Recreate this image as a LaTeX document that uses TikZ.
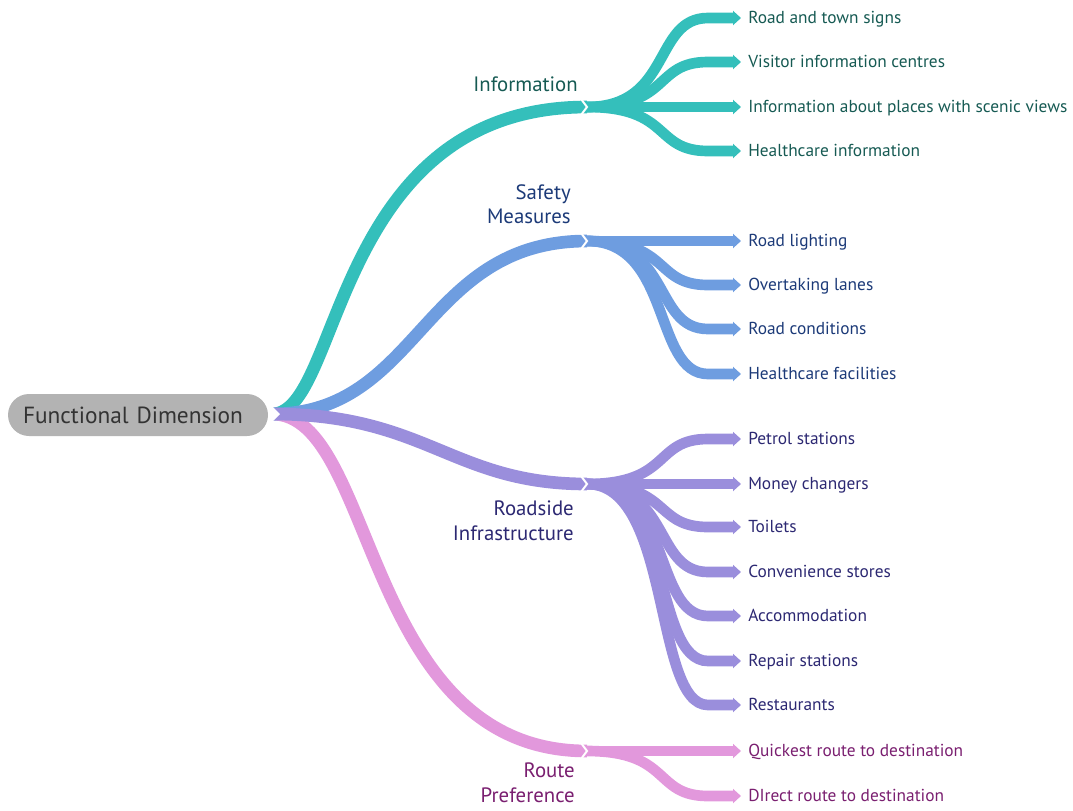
\documentclass[tikz,border=0pt]{standalone}
\usepackage{fontspec}
\setmainfont{PT Sans}
\usetikzlibrary{arrows.meta,calc}

\definecolor{tealb}{HTML}{34BFBB}
\definecolor{bluea}{HTML}{6E9DE0}
\definecolor{purpb}{HTML}{9A8EDC}
\definecolor{pinkb}{HTML}{E298DC}
\definecolor{tealt}{HTML}{165A53}
\definecolor{bluet}{HTML}{1C3A78}
\definecolor{purpt}{HTML}{2C2872}
\definecolor{pinkt}{HTML}{7A1F70}
\definecolor{rootg}{HTML}{B3B3B3}

\begin{document}
\begin{tikzpicture}[x=0.75pt,y=-0.75pt,
  leaf/.style={anchor=west,inner sep=0pt,text height=9pt,text depth=1.5pt,font=\fontsize{13}{15}\selectfont},
  lab/.style={anchor=east,align=right,inner sep=0pt,font=\fontsize{15.6}{18.4}\selectfont},
  main/.style={line width=9.5pt},
  sub/.style={line width=8pt,-{Triangle[length=6pt,width=10.5pt]}},
  notch/.style={draw=white,line width=1.5pt}]
\useasboundingbox (0,0) rectangle (1073,810);

\node[fill=rootg,rounded corners=15.75pt,minimum height=31.5pt,inner xsep=11.25pt,inner ysep=0pt,
  text width=172.5pt,align=left,font=\fontsize{17.5}{20}\selectfont,text=black!80] (0) at (138,415) {Functional Dimension};
\coordinate (r) at (272,414);

\coordinate (1) at (587,107);
\coordinate (2) at (587,241);
\coordinate (3) at (587,484);
\coordinate (4) at (587,751);

\node[lab,text=tealt] (a) at (578,84) {Information};
\node[lab,text=bluet] (b) at (571,204) {Safety\\Measures};
\node[lab,text=purpt] (c) at (574,521) {Roadside\\Infrastructure};
\node[lab,text=pinkt] (d) at (575,783) {Route\\Preference};

\node[leaf,text=tealt] (11) at (748,18) {Road and town signs};
\node[leaf,text=tealt] (12) at (748,62) {Visitor information centres};
\node[leaf,text=tealt] (13) at (748,107) {Information about places with scenic views};
\node[leaf,text=tealt] (14) at (748,151) {Healthcare information};

\node[leaf,text=bluet] (21) at (748,241) {Road lighting};
\node[leaf,text=bluet] (22) at (748,285) {Overtaking lanes};
\node[leaf,text=bluet] (23) at (748,329) {Road conditions};
\node[leaf,text=bluet] (24) at (748,374) {Healthcare facilities};

\node[leaf,text=purpt] (31) at (748,439) {Petrol stations};
\node[leaf,text=purpt] (32) at (748,484) {Money changers};
\node[leaf,text=purpt] (33) at (748,527) {Toilets};
\node[leaf,text=purpt] (34) at (748,572) {Convenience stores};
\node[leaf,text=purpt] (35) at (748,616) {Accommodation};
\node[leaf,text=purpt] (36) at (748,661) {Repair stations};
\node[leaf,text=purpt] (37) at (748,705) {Restaurants};

\node[leaf,text=pinkt] (41) at (748,751) {Quickest route to destination};
\node[leaf,text=pinkt] (42) at (748,796) {DIrect route to destination};

\path[draw=tealb,main] (r) .. controls +(70,0) and +(-256,0) .. (1);
\path[draw=pinkb,main] (r) .. controls +(105,0) and +(-225,0) .. (4);
\path[draw=bluea,main] (r) .. controls +(148,0) and +(-165,0) .. (2);
\path[draw=purpb,main] (r) .. controls +(155,0) and +(-135,0) .. (3);

\path[draw=tealb,sub] (1) .. controls +(85,0) and +(-55,0) .. ($(11.west)+(-40,0)$) -- ($(11.west)+(-7,0)$);
\path[draw=tealb,sub] (1) .. controls +(85,0) and +(-55,0) .. ($(12.west)+(-40,0)$) -- ($(12.west)+(-7,0)$);
\path[draw=tealb,sub] (1) -- ($(13.west)+(-7,0)$);
\path[draw=tealb,sub] (1) .. controls +(85,0) and +(-55,0) .. ($(14.west)+(-40,0)$) -- ($(14.west)+(-7,0)$);

\path[draw=bluea,sub] (2) -- ($(21.west)+(-7,0)$);
\path[draw=bluea,sub] (2) .. controls +(85,0) and +(-55,0) .. ($(22.west)+(-40,0)$) -- ($(22.west)+(-7,0)$);
\path[draw=bluea,sub] (2) .. controls +(85,0) and +(-55,0) .. ($(23.west)+(-40,0)$) -- ($(23.west)+(-7,0)$);
\path[draw=bluea,sub] (2) .. controls +(85,0) and +(-55,0) .. ($(24.west)+(-40,0)$) -- ($(24.west)+(-7,0)$);

\path[draw=purpb,sub] (3) .. controls +(85,0) and +(-55,0) .. ($(31.west)+(-40,0)$) -- ($(31.west)+(-7,0)$);
\path[draw=purpb,sub] (3) -- ($(32.west)+(-7,0)$);
\path[draw=purpb,sub] (3) .. controls +(85,0) and +(-55,0) .. ($(33.west)+(-40,0)$) -- ($(33.west)+(-7,0)$);
\path[draw=purpb,sub] (3) .. controls +(85,0) and +(-55,0) .. ($(34.west)+(-40,0)$) -- ($(34.west)+(-7,0)$);
\path[draw=purpb,sub] (3) .. controls +(85,0) and +(-55,0) .. ($(35.west)+(-40,0)$) -- ($(35.west)+(-7,0)$);
\path[draw=purpb,sub] (3) .. controls +(85,0) and +(-55,0) .. ($(36.west)+(-40,0)$) -- ($(36.west)+(-7,0)$);
\path[draw=purpb,sub] (3) .. controls +(85,0) and +(-55,0) .. ($(37.west)+(-40,0)$) -- ($(37.west)+(-7,0)$);

\path[draw=pinkb,sub] (4) -- ($(41.west)+(-7,0)$);
\path[draw=pinkb,sub] (4) .. controls +(85,0) and +(-55,0) .. ($(42.west)+(-40,0)$) -- ($(42.west)+(-7,0)$);

\path[fill=white] (r) ++(-1,-9) -- ++(9,9) -- ++(-9,9) -- cycle;
\path[notch] (1) ++(-6,-8) -- ++(6,8) -- ++(-6,8);
\path[notch] (2) ++(-6,-8) -- ++(6,8) -- ++(-6,8);
\path[notch] (3) ++(-6,-8) -- ++(6,8) -- ++(-6,8);
\path[notch] (4) ++(-6,-8) -- ++(6,8) -- ++(-6,8);
\end{tikzpicture}
\end{document}
